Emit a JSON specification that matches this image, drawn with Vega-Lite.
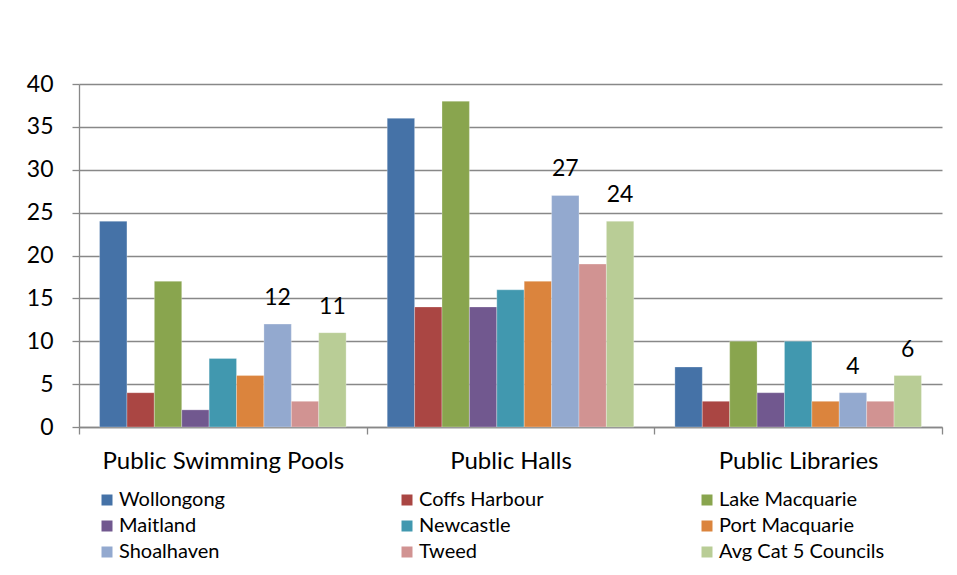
{
  "$schema": "https://vega.github.io/schema/vega-lite/v6.json",
  "width": 863,
  "height": 343,
  "autosize": {"type": "none"},
  "padding": {"left": 79, "top": 84, "right": 15, "bottom": 148},
  "background": "white",
  "config": {
    "view": {"stroke": null},
    "font": "Lato",
    "axis": {"labelColor": "#000000", "labelFont": "Lato", "domainColor": "#888888", "tickColor": "#888888", "gridColor": "#888888"}
  },
  "data": {
    "values": [
      {"facility": "Public Swimming Pools", "council": "Wollongong", "count": 24},
      {"facility": "Public Swimming Pools", "council": "Coffs Harbour", "count": 4},
      {"facility": "Public Swimming Pools", "council": "Lake Macquarie", "count": 17},
      {"facility": "Public Swimming Pools", "council": "Maitland", "count": 2},
      {"facility": "Public Swimming Pools", "council": "Newcastle", "count": 8},
      {"facility": "Public Swimming Pools", "council": "Port Macquarie", "count": 6},
      {"facility": "Public Swimming Pools", "council": "Shoalhaven", "count": 12},
      {"facility": "Public Swimming Pools", "council": "Tweed", "count": 3},
      {"facility": "Public Swimming Pools", "council": "Avg Cat 5 Councils", "count": 11},
      {"facility": "Public Halls", "council": "Wollongong", "count": 36},
      {"facility": "Public Halls", "council": "Coffs Harbour", "count": 14},
      {"facility": "Public Halls", "council": "Lake Macquarie", "count": 38},
      {"facility": "Public Halls", "council": "Maitland", "count": 14},
      {"facility": "Public Halls", "council": "Newcastle", "count": 16},
      {"facility": "Public Halls", "council": "Port Macquarie", "count": 17},
      {"facility": "Public Halls", "council": "Shoalhaven", "count": 27},
      {"facility": "Public Halls", "council": "Tweed", "count": 19},
      {"facility": "Public Halls", "council": "Avg Cat 5 Councils", "count": 24},
      {"facility": "Public Libraries", "council": "Wollongong", "count": 7},
      {"facility": "Public Libraries", "council": "Coffs Harbour", "count": 3},
      {"facility": "Public Libraries", "council": "Lake Macquarie", "count": 10},
      {"facility": "Public Libraries", "council": "Maitland", "count": 4},
      {"facility": "Public Libraries", "council": "Newcastle", "count": 10},
      {"facility": "Public Libraries", "council": "Port Macquarie", "count": 3},
      {"facility": "Public Libraries", "council": "Shoalhaven", "count": 4},
      {"facility": "Public Libraries", "council": "Tweed", "count": 3},
      {"facility": "Public Libraries", "council": "Avg Cat 5 Councils", "count": 6}
    ]
  },
  "encoding": {
    "x": {
      "field": "facility",
      "type": "nominal",
      "sort": ["Public Swimming Pools", "Public Halls", "Public Libraries"],
      "scale": {"paddingInner": 0, "paddingOuter": 0},
      "axis": {"title": null, "labelAngle": 0, "labelFontSize": 24, "labelPadding": 15, "labelLimit": 0, "tickSize": 7, "tickBand": "extent", "domainWidth": 1.3, "tickWidth": 1.3}
    },
    "xOffset": {
      "field": "council",
      "type": "nominal",
      "sort": ["Wollongong", "Coffs Harbour", "Lake Macquarie", "Maitland", "Newcastle", "Port Macquarie", "Shoalhaven", "Tweed", "Avg Cat 5 Councils"],
      "scale": {"paddingInner": 0, "paddingOuter": 0.75}
    },
    "y": {
      "field": "count",
      "type": "quantitative",
      "scale": {"domain": [0, 40]},
      "axis": {"title": null, "values": [0, 5, 10, 15, 20, 25, 30, 35, 40], "labelFontSize": 23, "labelPadding": 19, "tickSize": 7, "gridWidth": 1.3, "domainWidth": 1.3, "tickWidth": 1.3}
    }
  },
  "layer": [
    {
      "mark": {"type": "bar", "strokeWidth": 0.8, "strokeOpacity": 0.35, "stroke": "#ffffff"},
      "encoding": {
        "color": {
          "field": "council",
          "type": "nominal",
          "scale": {
            "domain": ["Wollongong", "Coffs Harbour", "Lake Macquarie", "Maitland", "Newcastle", "Port Macquarie", "Shoalhaven", "Tweed", "Avg Cat 5 Councils"],
            "range": ["#4572A7", "#AA4643", "#89A54E", "#71588F", "#4198AF", "#DB843D", "#93A9CF", "#D19392", "#B9CD96"]
          },
          "legend": {
            "title": null,
            "orient": "none",
            "legendX": 18,
            "legendY": 406,
            "direction": "horizontal",
            "columns": 3,
            "gridAlign": "all",
            "padding": 0,
            "columnPadding": 112,
            "rowPadding": 6,
            "symbolType": "square",
            "symbolSize": 121,
            "symbolStrokeWidth": 0,
            "symbolOpacity": 1,
            "labelFontSize": 20,
            "labelColor": "#000000",
            "labelOffset": 2,
            "labelLimit": 300
          }
        }
      }
    },
    {
      "transform": [{"filter": {"field": "council", "oneOf": ["Shoalhaven", "Avg Cat 5 Councils"]}}],
      "mark": {"type": "text", "fontSize": 23, "baseline": "alphabetic", "dy": -19, "color": "#000000"},
      "encoding": {"text": {"field": "count", "type": "quantitative"}}
    }
  ]
}
